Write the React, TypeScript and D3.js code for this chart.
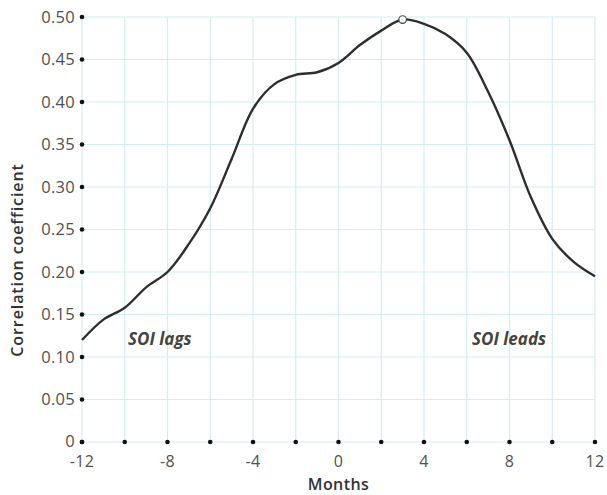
import * as d3 from "d3";

// months of lag (SOI vs. series) and the correlation at each one
const months = [-12, -11, -10, -9, -8, -7, -6, -5, -4, -3, -2, -1, 0, 1, 2, 3, 4, 5, 6, 7, 8, 9, 10, 11, 12];
const corr = [
  0.12, 0.144, 0.158, 0.182, 0.2, 0.233, 0.275, 0.333, 0.392, 0.421, 0.432, 0.435, 0.446,
  0.467, 0.484, 0.497, 0.492, 0.48, 0.458, 0.412, 0.355, 0.288, 0.239, 0.212, 0.195,
];
const peakMonth = 3;

const xTicks = [-12, -10, -8, -6, -4, -2, 0, 2, 4, 6, 8, 10, 12];
const xLabels = [-12, -8, -4, 0, 4, 8, 12];
const yTicks = [0, 0.05, 0.1, 0.15, 0.2, 0.25, 0.3, 0.35, 0.4, 0.45, 0.5];

const W = 607;
const H = 495;
const margin = { top: 17, right: 12, bottom: 53, left: 82 };

const font = "'Open Sans', 'Noto Sans', sans-serif";

export default function App() {
  const x = d3.scaleLinear().domain([-12, 12]).range([margin.left, W - margin.right]);
  const y = d3.scaleLinear().domain([0, 0.5]).range([H - margin.bottom, margin.top]);

  const data = months.map((m, i) => ({ m, v: corr[i] }));
  const line = d3
    .line<{ m: number; v: number }>()
    .x((d) => x(d.m))
    .y((d) => y(d.v))
    .curve(d3.curveCatmullRom.alpha(0.5));

  const peak = data.find((d) => d.m === peakMonth)!;
  const fmt = (v: number) => (v === 0 ? "0" : d3.format(".2f")(v));

  return (
    <svg
      width={W}
      height={H}
      style={{ position: "absolute", left: 0, top: 0, background: "#fff" }}
      fontFamily={font}
    >
      {/* grid */}
      <g stroke="#d3eef2" strokeWidth={1.2}>
        {xTicks.map((t) => (
          <line key={"vx" + t} x1={x(t)} x2={x(t)} y1={y(0.5)} y2={y(0)} />
        ))}
        {yTicks.map((t) => (
          <line key={"hy" + t} x1={x(-12)} x2={x(12)} y1={y(t)} y2={y(t)} />
        ))}
      </g>

      {/* y tick dots + labels */}
      {yTicks.map((t) => (
        <g key={"yt" + t}>
          <circle cx={x(-12)} cy={y(t)} r={2.3} fill="#111" />
          <text
            x={x(-12) - 7}
            y={y(t)}
            dy={t === 0 ? "0.3em" : "0.36em"}
            textAnchor="end"
            fontSize={16.5}
            letterSpacing={0.3}
            fill="#505050"
          >
            {fmt(t)}
          </text>
        </g>
      ))}

      {/* x tick dots + labels */}
      {xTicks.map((t) => (
        <circle key={"xt" + t} cx={x(t)} cy={y(0)} r={2.3} fill="#111" />
      ))}
      {xLabels.map((t) => (
        <text
          key={"xl" + t}
          x={x(t)}
          y={y(0) + 25}
          textAnchor="middle"
          fontSize={16}
          letterSpacing={0.3}
          fill="#505050"
        >
          {t}
        </text>
      ))}

      {/* curve */}
      <path
        d={line(data) ?? ""}
        fill="none"
        stroke="#2e2e2e"
        strokeWidth={2.4}
        strokeLinejoin="round"
      />
      <circle cx={x(peak.m)} cy={y(peak.v)} r={3.8} fill="#fff" stroke="#444" strokeWidth={1.2} />

      {/* annotations */}
      <text x={128} y={345} fontSize={17} fontStyle="italic" fontWeight={700} fill="#444">
        SOI lags
      </text>
      <text x={472} y={345} fontSize={17} fontStyle="italic" fontWeight={700} fill="#444">
        SOI leads
      </text>

      {/* axis titles */}
      <text
        x={(margin.left + W - margin.right) / 2}
        y={490}
        textAnchor="middle"
        fontSize={16}
        fontWeight={600}
        letterSpacing={0.4}
        fill="#333"
      >
        Months
      </text>
      <text
        transform={`translate(23,260) rotate(-90)`}
        textAnchor="middle"
        fontSize={16}
        fontWeight={600}
        letterSpacing={0.9}
        fill="#333"
      >
        Correlation coefficient
      </text>
    </svg>
  );
}
